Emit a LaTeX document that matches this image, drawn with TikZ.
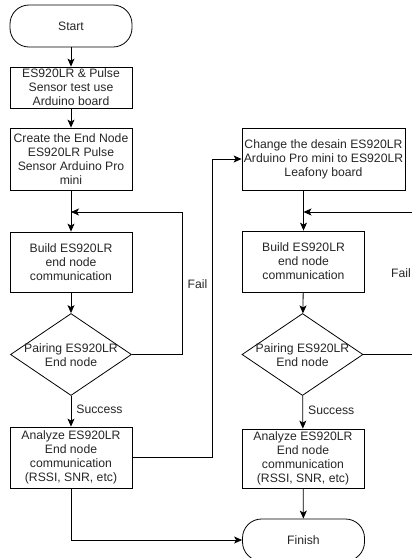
\documentclass[tikz,border=0pt]{standalone}
\usepackage{fontspec}
\setmainfont{Liberation Sans}
\usetikzlibrary{shapes.geometric,arrows.meta}
\begin{document}
\begin{tikzpicture}[x=1pt,y=-1pt,
  every node/.style={text=black!85, font=\fontsize{12.2pt}{14pt}\selectfont, align=center, inner sep=0pt},
  procbox/.style={draw=black, line width=0.8pt, rectangle, minimum width=122pt},
  termbox/.style={draw=black, line width=0.8pt, rectangle, rounded corners=19pt, minimum width=122pt, minimum height=42pt},
  decbox/.style={draw=black, line width=0.8pt, diamond, minimum width=121pt, minimum height=82pt},
  conn/.style={draw=black, line width=0.8pt},
  arr/.style={conn, -{Stealth[length=8pt,width=7pt,inset=2pt]}},
  lbl/.style={fill=white, inner sep=1pt}]
\useasboundingbox (0,0) rectangle (412,558);
\clip (0,0) rectangle (412,558);
% left column
\node[termbox] (start) at (71,26) {Start};
\node[procbox, minimum height=41pt] (b1) at (71,87.5) {ES920LR \& Pulse\\Sensor test use\\Arduino board};
\node[procbox, minimum height=62pt] (b2) at (71,159) {Create the End Node\\ES920LR Pulse\\Sensor Arduino Pro\\mini};
\node[procbox, minimum height=60pt] (build1) at (71,262) {Build ES920LR\\end node\\communication};
\node[decbox] (d1) at (71,354.5) {};
\node (d1t) at (71,355) {Pairing ES920LR\\End node};
\node[procbox, minimum height=61pt] (an1) at (71,457.5) {Analyze ES920LR\\End node\\communication\\(RSSI, SNR, etc)};
% right column
\node[procbox, minimum width=163pt, minimum height=62pt] (chg) at (323.5,159) {Change the desain ES920LR\\Arduino Pro mini to ES920LR\\Leafony board};
\node[procbox, minimum height=61pt] (build2) at (303.5,261.5) {Build ES920LR\\end node\\communication};
\node[decbox] (d2) at (302.5,354.5) {};
\node (d2t) at (302.5,355) {Pairing ES920LR\\End node};
\node[procbox, minimum height=59pt] (an2) at (303,458.5) {Analyze ES920LR\\End node\\communication\\(RSSI, SNR, etc)};
\node[termbox] (fin) at (303.5,540) {Finish};
% coordinates
\coordinate (j1) at (71,212);
\coordinate (f1a) at (182.5,354.5);
\coordinate (f1b) at (182.5,212);
\coordinate (x1) at (212.5,457.5);
\coordinate (x2) at (212.5,159);
\coordinate (j2) at (303.5,212);
\coordinate (e1) at (412,212);
\coordinate (e2) at (412,354.5);
\coordinate (c1) at (71,540);
% connectors left
\draw[arr] (start) -- (b1);
\draw[arr] (b1) -- (b2);
\draw[arr] (b2) -- (build1);
\draw[arr] (build1) -- (d1);
\draw[arr] (d1) -- node[pos=0.45, right=4pt, lbl] (s1) {Success} (an1);
\draw[arr] (d1.east) -- (f1a) -- (f1b) -- (j1);
\node[lbl] (fail1) at (197.5,284) {Fail};
% connectors cross
\draw[arr] (an1.east) -- (x1) -- (x2) -- (chg.west);
\draw[arr] (an1.south) -- (c1) -- (fin.west);
% connectors right
\draw[arr] (build2.north |- chg.south) -- (build2.north);
\draw[arr] (e1) -- (j2);
\draw[arr] (build2) -- (d2);
\draw[arr] (d2) -- node[pos=0.45, right=4pt, lbl] (s2) {Success} (an2);
\draw[conn] (d2.east) -- (e2);
\node[lbl] (fail2) at (401,273) {Fail};
\draw[arr] (an2) -- (fin);
\end{tikzpicture}
\end{document}
